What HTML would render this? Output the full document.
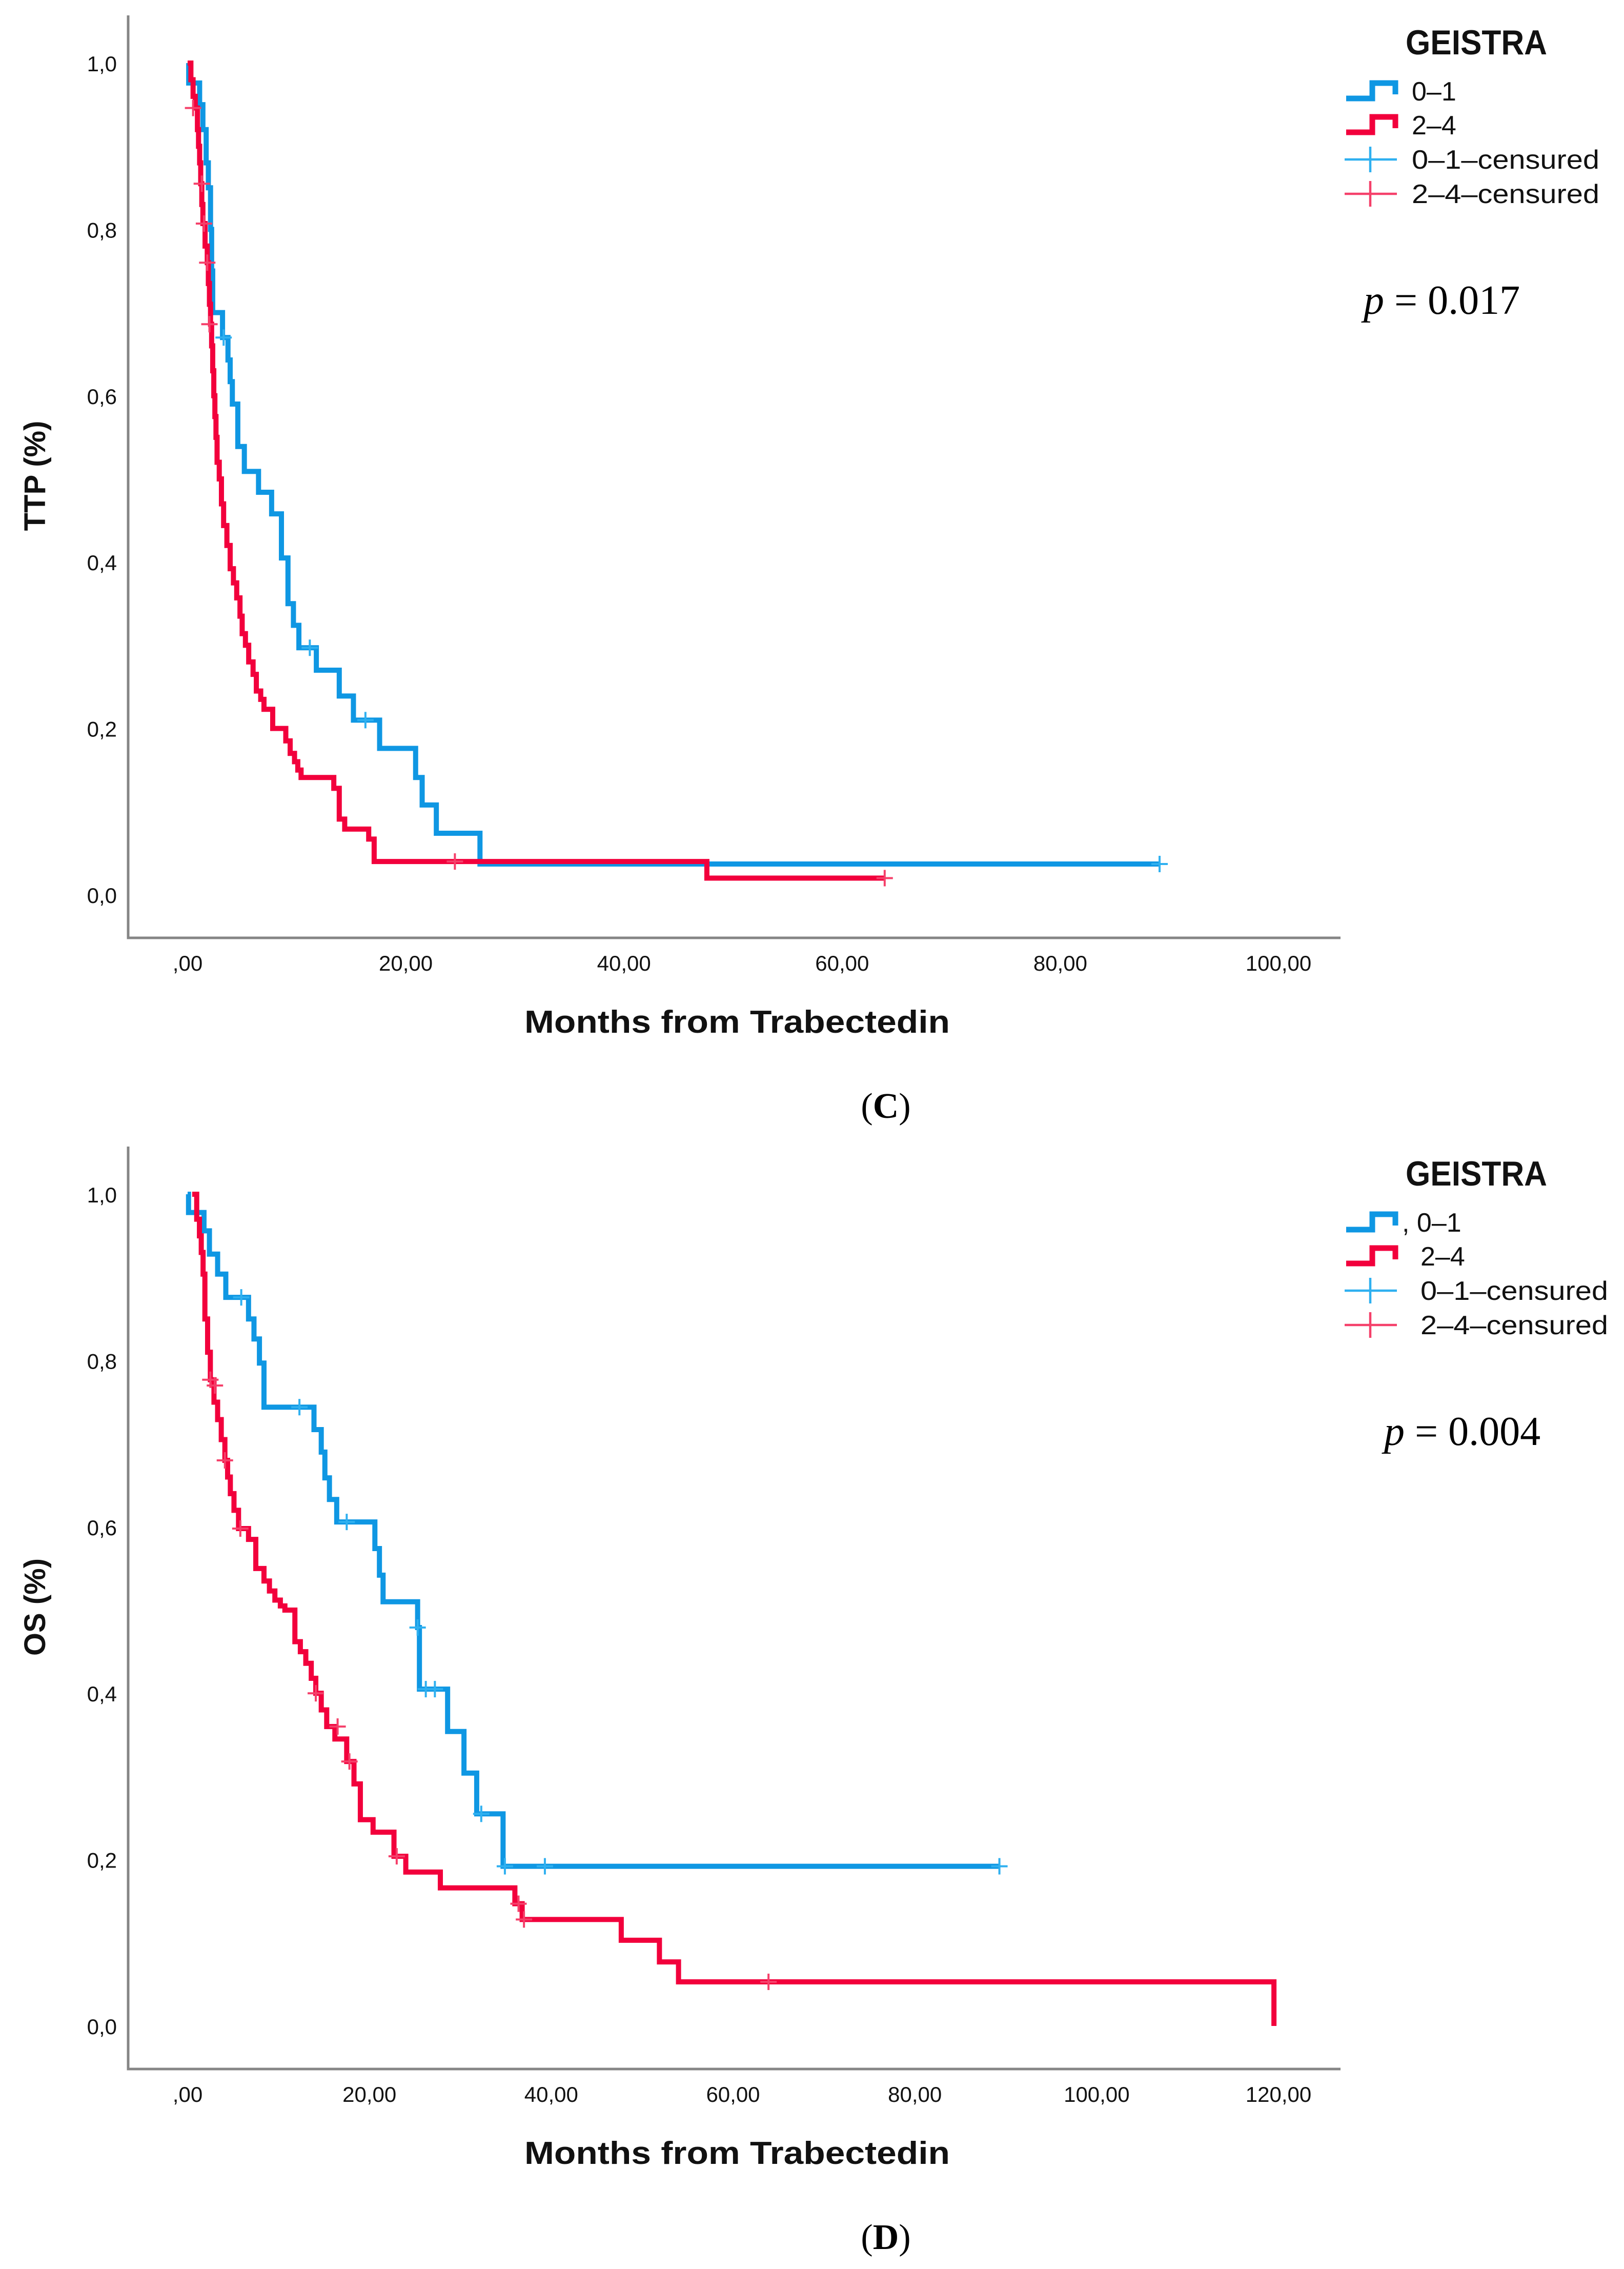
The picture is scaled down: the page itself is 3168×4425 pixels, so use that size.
<!DOCTYPE html>
<html><head><meta charset="utf-8"><style>
html,body{margin:0;padding:0;background:#fff;}
svg{display:block;}
</style></head><body>
<svg id="fig" width="3168" height="4425" viewBox="0 0 3168 4425" xmlns="http://www.w3.org/2000/svg"></svg>
<script>
// ---- Panel C (TTP) data ----
const ttpBlueTimes = [0.1,1.1,1.4,1.7,1.9,2.1,2.2,2.3,3.2,3.7,3.9,4.1,4.6,5.2,6.5,7.7,8.6,9.2,9.7,10.2,11.8,13.9,15.2,17.6,20.9,21.5,22.8,26.8];
const ttpBlueSurv  = [0.976,0.95,0.92,0.88,0.85,0.80,0.75,0.70,0.67,0.643,0.617,0.59,0.539,0.509,0.484,0.458,0.405,0.35,0.324,0.297,0.27,0.239,0.21,0.176,0.141,0.108,0.074,0.037];
const ttpBlueEnd = 89.1;
const ttpBlueCensT = [3.3,11.2,16.3,89.1];
const ttpBlueCensS = [0.67,0.297,0.21,0.037];
const ttpRedTimes = [0.3,0.5,0.7,0.9,1.0,1.1,1.2,1.3,1.4,1.6,1.8,1.9,2.0,2.1,2.2,2.3,2.4,2.5,2.6,2.7,2.9,3.1,3.3,3.6,3.9,4.2,4.5,4.8,5.0,5.3,5.6,6.0,6.3,6.7,7.0,7.8,9.0,9.4,9.8,10.1,10.4,13.4,13.9,14.4,16.6,17.1,47.6];
const ttpRedSurv  = [0.98,0.96,0.946,0.92,0.9,0.88,0.855,0.83,0.807,0.78,0.76,0.735,0.71,0.686,0.66,0.63,0.6,0.575,0.55,0.52,0.5,0.47,0.444,0.42,0.392,0.375,0.357,0.335,0.314,0.3,0.28,0.265,0.245,0.235,0.223,0.2,0.185,0.17,0.16,0.15,0.141,0.128,0.091,0.079,0.067,0.04,0.02];
const ttpRedEnd = 63.9;
const ttpRedCensT = [0.5,1.3,1.5,1.8,2.0,24.5,63.9];
const ttpRedCensS = [0.946,0.855,0.807,0.76,0.686,0.04,0.02];
const ttpXTicks = [0,20,40,60,80,100];
const ttpXLabels = [",00","20,00","40,00","60,00","80,00","100,00"];

// ---- Panel D (OS) data ----
const osBlueTimes = [0.1,1.8,2.4,3.3,4.2,6.7,7.3,7.9,8.4,13.9,14.7,15.1,15.6,16.4,20.6,21.1,21.5,25.3,25.5,28.6,30.4,31.8,34.7];
const osBlueSurv  = [0.978,0.956,0.928,0.904,0.876,0.85,0.826,0.797,0.744,0.717,0.69,0.659,0.633,0.606,0.574,0.542,0.51,0.479,0.405,0.354,0.304,0.255,0.192];
const osBlueEnd = 89.3;
const osBlueCensT = [5.9,12.3,17.5,25.3,26.2,27.2,32.3,34.9,39.3,89.3];
const osBlueCensS = [0.876,0.744,0.606,0.479,0.405,0.405,0.255,0.192,0.192,0.192];
const osRedTimes = [1.0,1.3,1.5,1.7,1.9,2.2,2.5,2.9,3.3,3.7,4.1,4.4,4.7,5.1,5.6,6.7,7.5,8.4,9.0,9.6,10.2,10.7,11.8,12.4,13.0,13.6,14.1,14.7,15.3,16.2,17.5,18.3,19.0,20.4,22.7,24.0,27.8,36.0,36.8,47.7,51.9,54.0,119.5];
const osRedSurv  = [0.97,0.95,0.93,0.904,0.85,0.81,0.777,0.75,0.729,0.705,0.68,0.66,0.64,0.62,0.598,0.585,0.55,0.535,0.523,0.512,0.505,0.5,0.462,0.45,0.436,0.418,0.4,0.38,0.36,0.345,0.318,0.291,0.248,0.233,0.204,0.185,0.166,0.147,0.128,0.103,0.077,0.053,0.0];
const osRedStart = 0.5;
const osRedEnd = 119.5;
const osRedCensT = [2.5,3.0,4.1,5.8,14.1,16.5,17.8,23.0,36.4,37.0,63.9];
const osRedCensS = [0.777,0.77,0.68,0.598,0.4,0.36,0.318,0.204,0.147,0.128,0.053];
const osXTicks = [0,20,40,60,80,100,120];
const osXLabels = [",00","20,00","40,00","60,00","80,00","100,00","120,00"];

const yTicks = [0,0.2,0.4,0.6,0.8,1.0];
const yLabels = ["0,0","0,2","0,4","0,6","0,8","1,0"];

const NS = "http://www.w3.org/2000/svg";
const svg = document.getElementById("fig");
const BLUE = "#0f97e3", RED = "#f2003c", BLUE_L = "#2fb0f0", RED_L = "#f5406a";

function mk(tag, attrs, parent){
  const e = document.createElementNS(NS, tag);
  for (const k in attrs) e.setAttribute(k, attrs[k]);
  (parent||svg).appendChild(e);
  return e;
}

function stepPath(x, y, times, surv, start, end){
  let d = "M" + x(start) + "," + y(1);
  for (let i=0;i<times.length;i++){
    d += " H" + x(times[i]) + " V" + y(surv[i]);
  }
  if (end > times[times.length-1]) d += " H" + x(end);
  return d;
}

function panel(opt){
  const g = mk("g", {});
  
  
  const oy = opt.oy;
  const x = v => 366 + v * (2494-366) / opt.xmax;
  const y = v => oy + 1745 - v * (1745-123);

  const ax = mk("path", {d:"M250,"+(oy+30)+" V"+(oy+1829)+" H2615", fill:"none", stroke:"#858585", "stroke-width":5}, g);
  
  

  yTicks.forEach((v,i)=>{
    const t = mk("text", {x:228, y:y(v)+16, "text-anchor":"end", "font-family":"Liberation Sans, sans-serif", "font-size":42, fill:"#111"}, g);
    t.textContent = yLabels[i];
    
    
  });
  opt.xticks.forEach((v,i)=>{
    const t = mk("text", {x:x(v), y:oy+1893, "text-anchor":"middle", "font-family":"Liberation Sans, sans-serif", "font-size":42, fill:"#111"}, g);
    t.textContent = opt.xlabels[i];
    
    
  });

  const xt = mk("text", {x:1438, y:oy+2014, "text-anchor":"middle", "font-family":"Liberation Sans, sans-serif", "font-weight":"bold", "font-size":62, textLength:830, lengthAdjust:"spacingAndGlyphs", fill:"#111"}, g);
  xt.textContent = "Months from Trabectedin";
  
  
  const yt = mk("text", {x:0, y:0, transform:"translate(88,"+(oy+928)+") rotate(-90)", "text-anchor":"middle", "font-family":"Liberation Sans, sans-serif", "font-weight":"bold", "font-size":58, fill:"#111"}, g);
  yt.textContent = opt.ytitle;
  
  

  const pb = mk("path", {d:stepPath(x,y,opt.bt,opt.bs,0,opt.bend), fill:"none", stroke:BLUE, "stroke-width":10, "stroke-linejoin":"miter"}, g);
  
  
  const pr = mk("path", {d:stepPath(x,y,opt.rt,opt.rs,opt.rstart,opt.rend), fill:"none", stroke:RED, "stroke-width":10, "stroke-linejoin":"miter"}, g);
  
  

  function cens(ts, ss, col, nm){
    ts.forEach((t,i)=>{
      const c = mk("path", {d:"M"+(x(t)-16)+","+y(ss[i])+" h32 M"+x(t)+","+(y(ss[i])-16)+" v32", stroke:col, "stroke-width":4, fill:"none"}, g);
      
      
    });
  }
  cens(opt.bct, opt.bcs, BLUE_L, 'censor-mark-0-1');
  cens(opt.rct, opt.rcs, RED_L, 'censor-mark-2-4');

  const lg = mk("g", {}, g);
  
  
  const gt = mk("text", {x:2880, y:oy+106, "text-anchor":"middle", "font-family":"Liberation Sans, sans-serif", "font-weight":"bold", "font-size":68, textLength:276, lengthAdjust:"spacingAndGlyphs", fill:"#111"}, lg);
  gt.textContent = "GEISTRA";
  
  
  const rows = [oy+178, oy+244, oy+311, oy+378];
  const tx = opt.legTextX;
  [[BLUE],[RED]].forEach((r,i)=>{
    const cy = rows[i];
    const s = mk("path", {d:"M2626,"+(cy+14)+" H2677 V"+(cy-16)+" H2722 V"+(cy+6), stroke:r[0], "stroke-width":11, fill:"none"}, lg);
    
    
  });
  [[BLUE_L],[RED_L]].forEach((r,i)=>{
    const cy = rows[i+2];
    const s = mk("path", {d:"M2623,"+cy+" H2725 M2673,"+(cy-25)+" V"+(cy+25), stroke:r[0], "stroke-width":4.5, fill:"none"}, lg);
    
    
  });
  const labs = [opt.leg0, "2\u20134", "0\u20131\u2013censured", "2\u20134\u2013censured"];
  const lens = [null, null, 366, 366];
  labs.forEach((l,i)=>{
    const a = {x:(i===0?opt.leg0X:tx), y:rows[i]+18, "font-family":"Liberation Sans, sans-serif", "font-size":52, fill:"#111"};
    if (lens[i]) { a.textLength = lens[i]; a.lengthAdjust = "spacingAndGlyphs"; }
    const t = mk("text", a, lg);
    t.textContent = l;
    
    
  });

  const p = mk("text", {x:opt.px, y:oy+612, "font-family":"Liberation Serif, serif", "font-size":80, fill:"#000"}, g);
  p.innerHTML = '<tspan font-style="italic">p</tspan> = ' + opt.pval;
  
  

  const pl = mk("text", {x:1728, y:oy+2180, "text-anchor":"middle", "font-family":"Liberation Serif, serif", "font-size":70, fill:"#000"}, g);
  pl.innerHTML = '(<tspan font-weight="bold">' + opt.letter + '</tspan>)';
  
  
}

panel({name:"ttp-panel", oy:0, xmax:100, xticks:ttpXTicks, xlabels:ttpXLabels, ytitle:"TTP (%)",
  bt:ttpBlueTimes, bs:ttpBlueSurv, bend:ttpBlueEnd, bct:ttpBlueCensT, bcs:ttpBlueCensS,
  rt:ttpRedTimes, rs:ttpRedSurv, rstart:0, rend:ttpRedEnd, rct:ttpRedCensT, rcs:ttpRedCensS,
  leg0:"0\u20131", leg0X:2754, legTextX:2754, px:2660, pval:"0.017", letter:"C"});
panel({name:"os-panel", oy:2206, xmax:120, xticks:osXTicks, xlabels:osXLabels, ytitle:"OS (%)",
  bt:osBlueTimes, bs:osBlueSurv, bend:osBlueEnd, bct:osBlueCensT, bcs:osBlueCensS,
  rt:osRedTimes, rs:osRedSurv, rstart:osRedStart, rend:osRedEnd, rct:osRedCensT, rcs:osRedCensS,
  leg0:", 0\u20131", leg0X:2735, legTextX:2771, px:2700, pval:"0.004", letter:"D"});
</script>
</body></html>
